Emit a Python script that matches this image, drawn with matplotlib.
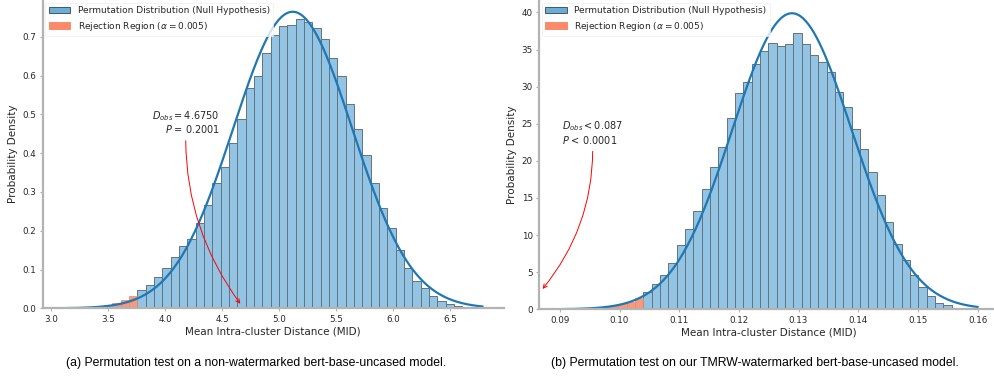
import numpy as np
import matplotlib
matplotlib.use('Agg')
import matplotlib.pyplot as plt
from matplotlib.patches import Patch

# --- panel (a): non-watermarked model ---
left_bin_start = 3.10
left_bin_width = 0.07306
left_heights = [0.0005, 0.001, 0.0015, 0.003, 0.005, 0.008, 0.013, 0.021, 0.032,
                0.048, 0.060, 0.081, 0.104, 0.132, 0.161, 0.178, 0.219, 0.266,
                0.323, 0.365, 0.425, 0.487, 0.567, 0.599, 0.657, 0.704, 0.728,
                0.730, 0.745, 0.737, 0.722, 0.695, 0.644, 0.598, 0.527, 0.461,
                0.394, 0.323, 0.258, 0.206, 0.151, 0.105, 0.071, 0.053, 0.033,
                0.020, 0.011, 0.005, 0.002]
left_n_reject = 9           # first bins inside the rejection region
left_fit = (5.12, 0.522)    # fitted normal: mean, std
left_curve_range = (3.12, 6.785)
left_dobs = 4.675
left_text = "$D_{obs} = 4.6750$\n$P$ = 0.2001"
left_xticks = [3.0, 3.5, 4.0, 4.5, 5.0, 5.5, 6.0, 6.5]
left_yticks = [0.0, 0.1, 0.2, 0.3, 0.4, 0.5, 0.6, 0.7]

# --- panel (b): TMRW-watermarked model ---
right_bin_start = 0.0900
right_bin_width = 0.001397
right_heights = [0.01, 0.03, 0.05, 0.09, 0.15, 0.26, 0.42, 0.65, 1.0, 1.58,
                 2.3, 3.4, 4.62, 6.2, 8.63, 10.78, 13.29, 16.17, 19.14, 21.91,
                 25.74, 29.19, 30.67, 33.06, 34.75, 35.9, 35.45, 35.76, 37.3,
                 35.76, 34.27, 33.29, 31.94, 29.25, 27.31, 24.33, 21.56, 18.46,
                 15.45, 11.7, 8.85, 6.64, 4.65, 3.05, 1.79, 0.81, 0.6, 0.18, 0.05]
right_n_reject = 10
right_fit = (0.1289, 0.0100)
right_curve_range = (0.090, 0.160)
right_dobs = 0.0868
right_text = "$D_{obs} < 0.087$\n$P$ < 0.0001"
right_xticks = [0.09, 0.10, 0.11, 0.12, 0.13, 0.14, 0.15, 0.16]
right_yticks = [0, 5, 10, 15, 20, 25, 30, 35, 40]

captions = ["(a) Permutation test on a non-watermarked bert-base-uncased model.",
            "(b) Permutation test on our TMRW-watermarked bert-base-uncased model."]

BAR_BLUE = '#93c4e3'
BAR_EDGE = '#62737f'
BAR_RED = '#f7997c'
CURVE = '#1f77b4'
TXT = '#262626'
SPINE = '#b3b3b3'


def draw_panel(ax, start, width, heights, n_rej, fit, crange, dobs, note,
               note_xy, note_ha, arrow_y, rad, xticks, yticks, xfmt, xlim, ylim):
    heights = np.array(heights)
    edges = start + width * np.arange(len(heights))
    ax.bar(edges[n_rej:], heights[n_rej:], width=width, align='edge',
           color=BAR_BLUE, edgecolor=BAR_EDGE, linewidth=0.7)
    ax.bar(edges[:n_rej], heights[:n_rej], width=width, align='edge',
           color=BAR_RED, edgecolor='#e58a70', linewidth=0.5)

    mu, sd = fit
    xs = np.linspace(crange[0], crange[1], 300)
    ax.plot(xs, np.exp(-0.5 * ((xs - mu) / sd) ** 2) / (sd * np.sqrt(2 * np.pi)),
            color=CURVE, lw=1.6)

    ax.annotate(note, xy=(dobs, arrow_y), xytext=note_xy, ha=note_ha, va='center',
                fontsize=7.0, color=TXT, linespacing=1.05,
                arrowprops=dict(arrowstyle='->', color='red', lw=0.7,
                                mutation_scale=7,
                                connectionstyle='arc3,rad=%s' % rad))

    handles = [Patch(facecolor='#6aaed6', edgecolor='#3f5a70', linewidth=0.7,
                     label='Permutation Distribution (Null Hypothesis)'),
               Patch(facecolor='#fa8a6a', edgecolor='#fa8a6a', linewidth=0.7,
                     label=r'Rejection Region ($\alpha = 0.005$)')]
    leg = ax.legend(handles=handles, loc='upper left', fontsize=6.45,
                    frameon=True, borderaxespad=0.3, handlelength=2.4,
                    labelcolor=TXT)
    leg.get_frame().set_edgecolor('#eeeeee')
    leg.get_frame().set_linewidth(0.6)

    ax.set_xlim(*xlim)
    ax.set_ylim(*ylim)
    ax.set_xticks(xticks)
    ax.set_xticklabels([xfmt % t for t in xticks])
    ax.set_yticks(yticks)
    ax.set_xlabel('Mean Intra-cluster Distance (MID)', fontsize=7.5, color=TXT, labelpad=2)
    ax.set_ylabel('Probability Density', fontsize=7.5, color=TXT, labelpad=3)
    ax.tick_params(labelsize=6.3, colors=SPINE, labelcolor=TXT, length=2.5, width=0.8, pad=2)
    for s in ['top', 'right']:
        ax.spines[s].set_visible(False)
    for s in ['left', 'bottom']:
        ax.spines[s].set_color(SPINE)
        ax.spines[s].set_linewidth(1.6)


fig = plt.figure(figsize=(9.95, 3.77), dpi=100)
ax1 = fig.add_axes([0.0429, 0.1822, 0.4632, 0.8178])
ax2 = fig.add_axes([0.5417, 0.1796, 0.4617, 0.8204])

draw_panel(ax1, left_bin_start, left_bin_width, left_heights, left_n_reject,
           left_fit, left_curve_range, left_dobs, left_text, (4.48, 0.480), 'right',
           0.006, 0.18, left_xticks, left_yticks, '%.1f', (2.927, 6.97), (0, 0.7946))
draw_panel(ax2, right_bin_start, right_bin_width, right_heights, right_n_reject,
           right_fit, right_curve_range, right_dobs, right_text, (0.0903, 23.8), 'left',
           2.45, -0.2, right_xticks, right_yticks, '%.2f', (0.0865, 0.1635), (0, 41.68))

fig.text(256 / 995, 0.038, captions[0], ha='center', va='center',
         fontsize=8.8, family='Liberation Sans', color='black')
fig.text(755 / 995, 0.038, captions[1], ha='center', va='center',
         fontsize=8.8, family='Liberation Sans', color='black')

fig.savefig('out.png', dpi=100)
